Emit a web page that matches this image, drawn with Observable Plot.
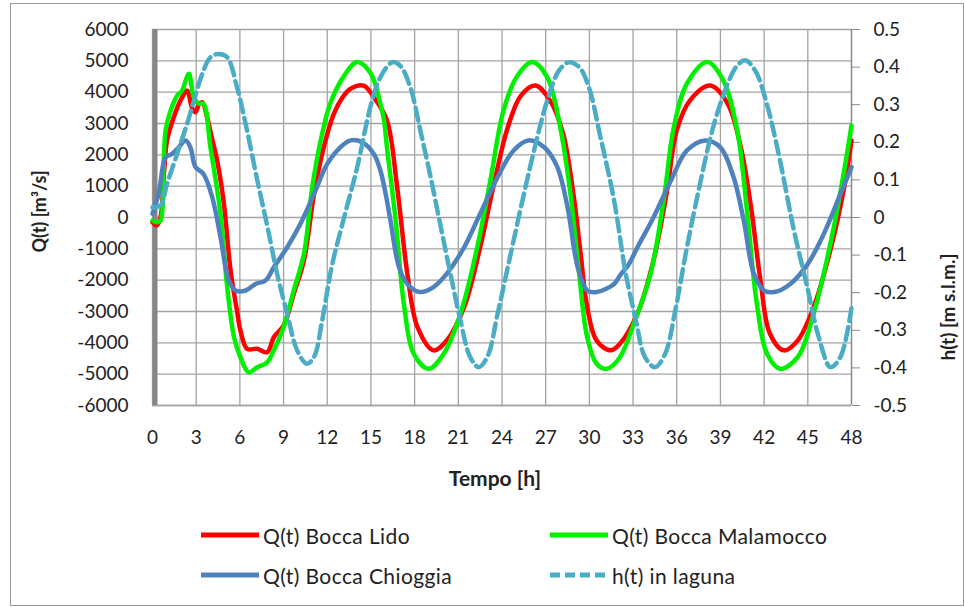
<!DOCTYPE html>
<html>
<head>
<meta charset="utf-8">
<script src="https://cdn.jsdelivr.net/npm/d3@7"></script>
<script src="https://cdn.jsdelivr.net/npm/@observablehq/plot@0.6"></script>
<style>
  body { margin: 0; background: #fff; font-family: Lato, "Open Sans", sans-serif; }
  #wrap { position: relative; width: 964px; height: 607px; }
  #frame { position: absolute; left: 10px; top: 3px; width: 952px; height: 601px; border: 1px solid #9a9a9a; pointer-events: none; }
  #legend { position: absolute; left: 0; top: 500px; width: 964px; height: 107px; font-size: 21px; letter-spacing: 0.4px; color: #222; }
  .item { position: absolute; display: flex; align-items: center; height: 26px; }
  .item svg { margin-right: 3px; }
</style>
</head>
<body>
<div id="wrap">
  <div id="chart"></div>
  <div id="legend"></div>
  <div id="frame"></div>
</div>
<script>
// ---- data ----
const xTicks = [0,3,6,9,12,15,18,21,24,27,30,33,36,39,42,45,48];
const yTicks = [-6000,-5000,-4000,-3000,-2000,-1000,0,1000,2000,3000,4000,5000,6000];
const hTicks = [-0.5,-0.4,-0.3,-0.2,-0.1,0,0.1,0.2,0.3,0.4,0.5];

const seriesNames = ["Q(t) Bocca Lido", "Q(t) Bocca Malamocco", "Q(t) Bocca Chioggia", "h(t) in laguna"];
const seriesColors = ["#ff0000", "#00f000", "#4f81bd", "#4bacc6"];

const lidoT = [0,0.3,0.55,0.8,1.0,1.46,1.92,2.38,2.7,2.95,3.2,3.41,3.75,4.1,4.44,4.9,5.36,5.8,6.04,6.5,7.19,7.88,8.33,9.0,9.7,10.4,11.1,11.76,12.45,13.0,13.6,14.5,15.2,16.1,16.8,17.5,18.2,19.3,20.2,21.4,22.5,23.4,24.4,25.3,26.3,27.3,28.2,28.9,29.4,29.85,30.5,31.45,32.1,33.3,34.4,35.3,36.0,36.9,38.3,39.5,40.4,41.1,41.75,42.4,43.35,44.3,45.4,46.6,47.5,48];
const lidoQ = [-150,-250,0,1500,2460,3200,3730,4050,3520,3360,3620,3680,3200,2500,1820,450,-1690,-2970,-3610,-4190,-4190,-4300,-3820,-3450,-2435,-1370,760,2240,3310,3800,4110,4210,3840,3100,970,-1790,-3500,-4240,-3930,-2860,-950,970,2880,3890,4210,3730,2670,760,-1160,-2860,-3930,-4240,-4030,-3070,-1370,760,2780,3730,4210,3630,2240,330,-2010,-3710,-4240,-3930,-2860,-950,970,2460];

const malT = [0,0.3,0.55,0.75,0.9,1.24,1.7,2.04,2.3,2.5,2.84,3.18,3.5,3.98,4.67,5.13,5.6,6.04,6.6,7.19,7.88,8.33,9.0,9.7,10.4,10.97,11.65,12.2,13.1,14.06,15.0,15.65,15.9,16.1,16.7,17.26,17.94,18.97,20.0,21.15,22.3,23.2,24.1,25.0,26.07,27.1,28.0,28.7,29.3,29.85,30.5,31.2,32.1,33.05,34.2,35.1,35.8,36.7,38.1,39.2,40.15,40.8,41.5,42.2,43.1,44.3,45.4,46.6,47.5,48];
const malQ = [-100,-150,-100,1500,2780,3410,3890,4050,4400,4590,3840,3630,3630,2240,120,-2220,-3820,-4460,-4940,-4780,-4620,-4240,-3500,-2330,-1160,970,2670,3630,4480,4960,4590,3630,3100,2240,-100,-2750,-4350,-4830,-4350,-3070,-950,1180,3410,4480,4960,4480,2880,760,-1800,-3820,-4670,-4830,-4460,-3390,-1800,540,2880,4270,4960,4370,2780,330,-2750,-4350,-4830,-4460,-3070,-730,1500,2940];

const chiT = [0,0.43,0.9,1.35,1.8,2.27,2.6,2.95,3.5,4.1,4.67,5.24,5.7,6.4,7.07,7.76,8.33,9.25,10.16,11.1,12.0,12.9,13.6,14.4,15.2,15.65,16.1,16.34,17.0,17.7,18.4,19.3,20.2,21.4,22.5,23.7,24.8,25.8,26.9,27.8,28.5,29.2,29.85,30.5,31.7,32.1,32.7,33.3,34.4,35.6,36.7,37.97,39.0,39.9,40.6,41.3,42.0,42.7,43.8,45.0,46.1,47.25,48];
const chiQ = [120,760,1920,2030,2240,2460,2240,1610,1390,650,-630,-2010,-2330,-2330,-2120,-2010,-1590,-950,-200,760,1710,2240,2460,2400,2030,1500,540,-100,-1690,-2220,-2380,-2220,-1800,-950,120,1290,2140,2460,2240,1610,330,-1590,-2330,-2380,-2120,-1850,-1500,-950,0,1180,2140,2460,2240,1290,-100,-1800,-2330,-2380,-2120,-1480,-520,760,1610];

const lagT = [0,0.55,1.0,1.7,2.38,2.84,3.4,3.98,4.55,5.13,5.8,6.5,7.2,7.9,8.56,9.25,9.94,10.6,11.1,11.65,12.3,13.1,14.06,15.0,15.65,16.46,17.0,17.7,18.4,19.1,19.8,20.46,21.15,21.8,22.4,23.0,23.7,24.4,25.3,26.2,27.1,27.9,28.6,29.3,29.96,30.76,31.7,32.5,33.2,33.8,34.5,35.2,35.9,36.7,37.6,38.5,39.5,40.15,40.7,41.4,42.2,43.1,44.0,44.96,45.75,46.56,47.25,48];
const lagH = [0.027,0.032,0.09,0.17,0.25,0.31,0.38,0.426,0.435,0.426,0.347,0.23,0.098,-0.026,-0.15,-0.256,-0.354,-0.389,-0.37,-0.274,-0.132,-0.008,0.134,0.30,0.373,0.413,0.404,0.347,0.23,0.107,-0.026,-0.15,-0.274,-0.37,-0.398,-0.37,-0.256,-0.132,0.027,0.178,0.31,0.39,0.413,0.40,0.347,0.214,0.045,-0.15,-0.274,-0.37,-0.398,-0.363,-0.247,-0.079,0.09,0.24,0.356,0.404,0.418,0.39,0.30,0.15,-0.026,-0.185,-0.318,-0.398,-0.37,-0.24];

// ---- build tables ----
const hToQ = 6000 / 0.5; // secondary axis mapping
const lido = lidoT.map((t, i) => ({t, v: lidoQ[i]}));
const mal = malT.map((t, i) => ({t, v: malQ[i]}));
const chi = chiT.map((t, i) => ({t, v: chiQ[i]}));
const lag = lagT.map((t, i) => ({t, v: lagH[i] * hToQ}));

const gridStroke = "#a3a3a3";
const fmtH = d => { const h = Math.round(d / hToQ * 10) / 10; return String(h); };

const chart = Plot.plot({
  width: 964,
  height: 500,
  marginLeft: 152,
  marginRight: 113,
  marginTop: 29,
  marginBottom: 95,
  style: { fontFamily: "Lato, 'Open Sans', sans-serif", fontSize: "19px", color: "#222", background: "transparent" },
  x: { domain: [0, 48] },
  y: { domain: [-6000, 6000] },
  marks: [
    Plot.gridX(xTicks, { stroke: gridStroke, strokeOpacity: 1, strokeWidth: 1.3 }),
    Plot.gridY(yTicks, { stroke: gridStroke, strokeOpacity: 1, strokeWidth: 1.3 }),
    Plot.axisX(xTicks, { tickSize: 0, tickPadding: 25, label: null, tickFormat: d => String(d) }),
    Plot.axisY(yTicks, { anchor: "left", tickSize: 0, tickPadding: 24, label: null, tickFormat: d => String(d) }),
    Plot.axisY(hTicks.map(h => h * hToQ), { anchor: "right", tickSize: 8, tickPadding: 14, label: null, tickFormat: fmtH, stroke: "#8a8a8a" }),
    Plot.ruleX([48], { stroke: "#8a8a8a", strokeWidth: 1.3 }),
    Plot.ruleY([-6000], { stroke: gridStroke, strokeWidth: 1.3 }),
    Plot.ruleX([0], { stroke: "#868686", strokeWidth: 5, dx: 2.5 }),
    Plot.line(lido, { x: "t", y: "v", stroke: seriesColors[0], strokeWidth: 4.5, curve: "catmull-rom" }),
    Plot.line(mal, { x: "t", y: "v", stroke: seriesColors[1], strokeWidth: 4.5, curve: "catmull-rom" }),
    Plot.line(chi, { x: "t", y: "v", stroke: seriesColors[2], strokeWidth: 4.5, curve: "catmull-rom" }),
    Plot.line(lag, { x: "t", y: "v", stroke: seriesColors[3], strokeWidth: 4.5, strokeDasharray: "13,6", curve: "catmull-rom" }),
    Plot.text(["Q(t) [m³/s]"], { frameAnchor: "left", dx: 40 - 152, dy: 35, rotate: -90, fontWeight: "bold", fontSize: 18, fill: "#222" }),
    Plot.text(["h(t) [m s.l.m.]"], { frameAnchor: "right", dx: 97, dy: 36, rotate: -90, fontWeight: "bold", fontSize: 19, letterSpacing: 0.8, fill: "#222" }),
    Plot.text(["Tempo [h]"], { frameAnchor: "bottom", dx: -7, dy: 80, fontWeight: "bold", fontSize: 21, letterSpacing: 0.5, fill: "#222" })
  ]
});
document.getElementById("chart").appendChild(chart);

// ---- legend ----
const legendPos = [[200, 35], [549, 35], [200, 75], [549, 75]];
const legend = document.getElementById("legend");
seriesNames.forEach((name, i) => {
  const div = document.createElement("div");
  div.className = "item";
  div.style.left = legendPos[i][0] + "px";
  div.style.top = (legendPos[i][1] - 13) + "px";
  const dash = i === 3 ? 'stroke-dasharray="10,5"' : "";
  div.innerHTML = `<svg width="60" height="10"><line x1="1" x2="59" y1="5" y2="5" stroke="${seriesColors[i]}" stroke-width="5" ${dash}/></svg><span>${name}</span>`;
  legend.appendChild(div);
});
</script>
</body>
</html>
